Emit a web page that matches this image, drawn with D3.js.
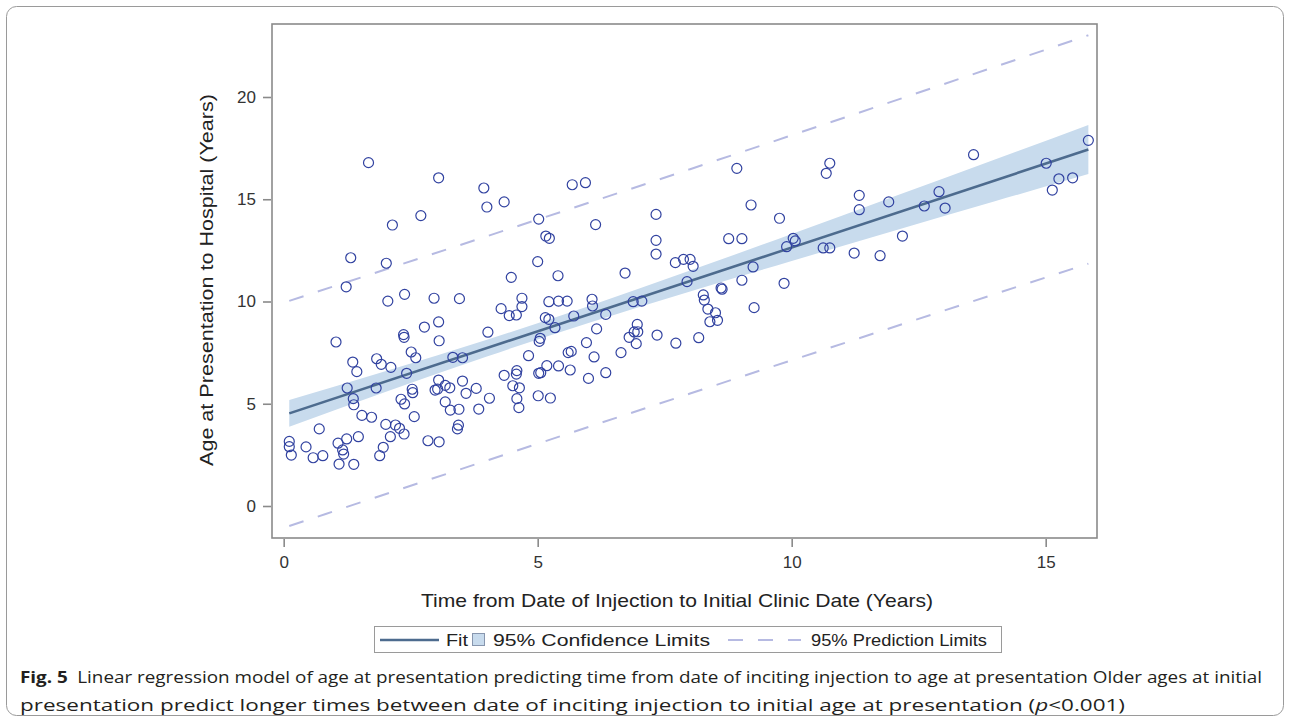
<!DOCTYPE html>
<html><head><meta charset="utf-8">
<script src="https://cdn.jsdelivr.net/npm/d3@7"></script>
<style>body{margin:0;background:#fff} svg{display:block}</style>
</head><body><svg id="c" width="1290" height="721"></svg>
<script>
const xTicks=[0,5,10,15];
const yTicks=[0,5,10,15,20];
const pointsX=[1.67,3.05,3.94,4.00,4.34,2.70,2.14,5.02,5.16,5.23,1.32,2.02,1.23,5.00,4.48,2.05,2.38,2.96,3.46,4.69,4.28,4.44,4.58,4.69,5.22,5.15,5.22,2.77,3.05,4.02,
1.03,1.36,1.44,1.83,1.92,2.11,2.36,2.37,3.06,2.51,2.60,2.42,3.33,3.52,1.25,1.37,1.38,1.82,1.54,1.73,0.70,0.11,0.11,0.15,0.44,0.58,0.77,1.07,1.24,1.16,1.18,1.09,1.38,1.47,2.01,2.20,2.28,2.37,2.10,1.96,1.89,2.57,2.31,2.38,2.53,2.54,2.84,3.06,3.05,3.03,3.18,3.27,2.98,3.52,3.59,3.79,3.18,3.28,3.45,3.84,4.05,3.44,3.42,4.34,4.51,4.59,4.58,4.64,4.59,4.63,4.82,5.01,5.02,5.06,5.18,5.05,5.03,5.25,
5.68,5.94,8.92,6.14,7.33,9.20,9.76,7.33,7.33,8.76,9.02,5.40,6.72,7.71,7.87,8.00,8.06,7.94,5.41,5.58,6.07,6.08,6.88,7.05,6.34,5.71,8.26,8.28,8.35,8.50,8.39,8.54,8.61,8.63,9.02,9.24,9.85,9.26,9.90,10.07,10.03,6.16,6.96,
5.34,6.90,6.97,6.80,6.94,7.35,7.72,8.17,5.96,5.60,5.66,6.11,6.64,5.41,5.64,6.00,6.34,
10.75,10.68,13.58,15.84,15.01,15.26,15.53,15.13,11.33,11.33,11.91,12.90,12.61,13.02,12.18,10.62,10.75,11.23,11.74];
const pointsY=[16.79,16.05,15.55,14.62,14.87,14.20,13.74,14.03,13.20,13.09,12.14,11.87,10.72,11.95,11.18,10.02,10.35,10.16,10.14,10.16,9.65,9.31,9.34,9.75,9.99,9.21,9.13,8.75,9.00,8.50,
8.02,7.04,6.57,7.20,6.93,6.78,8.38,8.25,8.08,7.53,7.25,6.49,7.27,7.25,5.77,5.25,4.95,5.77,4.43,4.34,3.77,3.16,2.90,2.49,2.89,2.36,2.46,3.07,3.28,2.74,2.54,2.05,2.04,3.39,3.99,3.96,3.80,3.52,3.39,2.87,2.46,4.37,5.22,4.99,5.71,5.54,3.19,3.14,6.16,5.72,5.90,5.78,5.67,6.11,5.51,5.75,5.09,4.69,4.73,4.74,5.27,3.95,3.77,6.39,5.88,6.62,6.45,5.78,5.25,4.81,7.35,5.39,6.49,6.52,6.86,8.20,8.05,5.28,
15.71,15.81,16.51,13.76,14.26,14.72,14.07,12.99,12.32,13.07,13.07,11.26,11.39,11.90,12.06,12.06,11.72,10.97,10.02,10.02,10.11,9.78,9.99,10.02,9.37,9.29,10.32,10.07,9.63,9.45,9.01,9.08,10.66,10.60,11.04,11.69,10.89,9.70,12.68,12.96,13.09,8.66,8.88,
8.72,8.51,8.52,8.25,7.94,8.36,7.96,8.23,7.99,7.50,7.56,7.29,7.50,6.85,6.65,6.24,6.52,
16.76,16.27,17.18,17.88,16.76,16.00,16.05,15.45,15.19,14.49,14.87,15.37,14.67,14.57,13.20,12.62,12.62,12.37,12.24];
const fitX=[0.11,15.84];
const fitY=[4.53,17.43];
const ciX=[0.11,2,4,6,8,10,12,14,15.84];
const ciLower=[3.88,5.57,7.31,8.95,10.49,11.98,13.45,14.90,16.23];
const ciUpper=[5.18,6.59,8.13,9.77,11.51,13.30,15.12,16.94,18.63];
const plX=[0.11,8,15.84];
const plLower=[-0.98,5.50,11.85];
const plUpper=[10.03,16.47,23.02];
const legendLabels=["Fit","95% Confidence Limits","95% Prediction Limits"];

const svg=d3.select("#c");
const L=272,R=1097,T=24,B=538;
const x=d3.scaleLinear().domain([-0.23,16.01]).range([L,R]);
const y=d3.scaleLinear().domain([-1.565,23.57]).range([B,T]);
const font="'Liberation Sans', Arial, sans-serif";

// outer rounded box
svg.append("rect").attr("x",6.5).attr("y",6.5).attr("width",1277).attr("height",709).attr("rx",10)
  .attr("fill","#fff").attr("stroke","#9a9a9a").attr("stroke-width",1);

svg.append("defs").append("clipPath").attr("id","clip").append("rect")
  .attr("x",L).attr("y",T).attr("width",R-L).attr("height",B-T);
const g=svg.append("g").attr("clip-path","url(#clip)");

// confidence band
const ciData=ciX.map((v,i)=>({x:v,lo:ciLower[i],hi:ciUpper[i]}));
g.append("path").datum(ciData)
  .attr("d",d3.area().x(d=>x(d.x)).y0(d=>y(d.lo)).y1(d=>y(d.hi)).curve(d3.curveMonotoneX))
  .attr("fill","#c8dbed");

// prediction limits
const line=d3.line().x(d=>x(d[0])).y(d=>y(d[1])).curve(d3.curveMonotoneX);
[plLower,plUpper].forEach(arr=>{
  g.append("path").datum(plX.map((v,i)=>[v,arr[i]])).attr("d",line)
   .attr("fill","none").attr("stroke","#b6bae2").attr("stroke-width",2).attr("stroke-dasharray","15,15");
});

// fit line
g.append("path").datum(fitX.map((v,i)=>[v,fitY[i]])).attr("d",line)
  .attr("fill","none").attr("stroke","#4d6b8e").attr("stroke-width",2.6);

// points
g.selectAll("circle.pt").data(pointsX.map((v,i)=>[v,pointsY[i]])).join("circle")
  .attr("class","pt").attr("cx",d=>x(d[0])).attr("cy",d=>y(d[1])).attr("r",5)
  .attr("fill","none").attr("stroke","#3142a0").attr("stroke-width",1.2);

// frame
svg.append("rect").attr("x",L).attr("y",T).attr("width",R-L).attr("height",B-T)
  .attr("fill","none").attr("stroke","#8a8a8a").attr("stroke-width",1.6);

// axes
const ya=svg.append("g").attr("transform",`translate(${L-1},0)`)
  .call(d3.axisLeft(y).tickValues(yTicks).tickSize(8).tickPadding(7).tickSizeOuter(0));
ya.select(".domain").remove();
ya.selectAll("line").attr("stroke","#8a8a8a").attr("stroke-width",1.6);
ya.selectAll("text").attr("font-family",font).attr("font-size",17).attr("fill","#333");

const xa=svg.append("g").attr("transform",`translate(0,${B+1})`)
  .call(d3.axisBottom(x).tickValues(xTicks).tickSize(8).tickPadding(9).tickSizeOuter(0));
xa.select(".domain").remove();
xa.selectAll("line").attr("stroke","#8a8a8a").attr("stroke-width",1.6);
xa.selectAll("text").attr("font-family",font).attr("font-size",17).attr("fill","#333");

// axis titles
svg.append("text").attr("x",677).attr("y",607).attr("text-anchor","middle")
  .attr("font-family",font).attr("font-size",19).attr("fill","#222")
  .attr("textLength",512).attr("lengthAdjust","spacingAndGlyphs")
  .text("Time from Date of Injection to Initial Clinic Date (Years)");
svg.append("text").attr("transform","translate(213,280) rotate(-90)").attr("text-anchor","middle")
  .attr("font-family",font).attr("font-size",19).attr("fill","#222")
  .attr("textLength",372).attr("lengthAdjust","spacingAndGlyphs")
  .text("Age at Presentation to Hospital (Years)");

// legend
const lg=svg.append("g");
lg.append("rect").attr("x",374.5).attr("y",626.5).attr("width",627).attr("height",26)
  .attr("fill","#fff").attr("stroke","#9a9a9a").attr("stroke-width",1);
lg.append("line").attr("x1",380).attr("x2",439).attr("y1",640).attr("y2",640)
  .attr("stroke","#4d6b8e").attr("stroke-width",2.6);
lg.append("text").attr("x",446).attr("y",646).attr("font-family",font).attr("font-size",17).attr("fill","#222")
  .attr("textLength",22).attr("lengthAdjust","spacingAndGlyphs").text(legendLabels[0]);
lg.append("rect").attr("x",472.5).attr("y",633.5).attr("width",12).attr("height",12)
  .attr("fill","#c8dbed").attr("stroke","#8796ae").attr("stroke-width",1);
lg.append("text").attr("x",493).attr("y",646).attr("font-family",font).attr("font-size",17).attr("fill","#222")
  .attr("textLength",217).attr("lengthAdjust","spacingAndGlyphs").text(legendLabels[1]);
lg.append("line").attr("x1",728).attr("x2",801).attr("y1",640).attr("y2",640)
  .attr("stroke","#b6bae2").attr("stroke-width",2).attr("stroke-dasharray","15,15");
lg.append("text").attr("x",811).attr("y",646).attr("font-family",font).attr("font-size",17).attr("fill","#222")
  .attr("textLength",176).attr("lengthAdjust","spacingAndGlyphs").text(legendLabels[2]);

// caption
const capFont="'Open Sans', 'Noto Sans', sans-serif";
const c1=svg.append("text").attr("x",20).attr("y",683).attr("font-family",capFont).attr("font-size",16).attr("fill","#231f20")
  .attr("textLength",1242).attr("lengthAdjust","spacingAndGlyphs");
c1.append("tspan").attr("font-weight","bold").text("Fig. 5");
c1.append("tspan").text("\u2002Linear regression model of age at presentation predicting time from date of inciting injection to age at presentation Older ages at initial");
const c2=svg.append("text").attr("x",20).attr("y",711).attr("font-family",capFont).attr("font-size",17).attr("fill","#231f20")
  .attr("textLength",1105).attr("lengthAdjust","spacingAndGlyphs");
c2.append("tspan").text("presentation predict longer times between date of inciting injection to initial age at presentation (");
c2.append("tspan").attr("font-style","italic").text("p");
c2.append("tspan").text("<0.001)");
</script></body></html>
